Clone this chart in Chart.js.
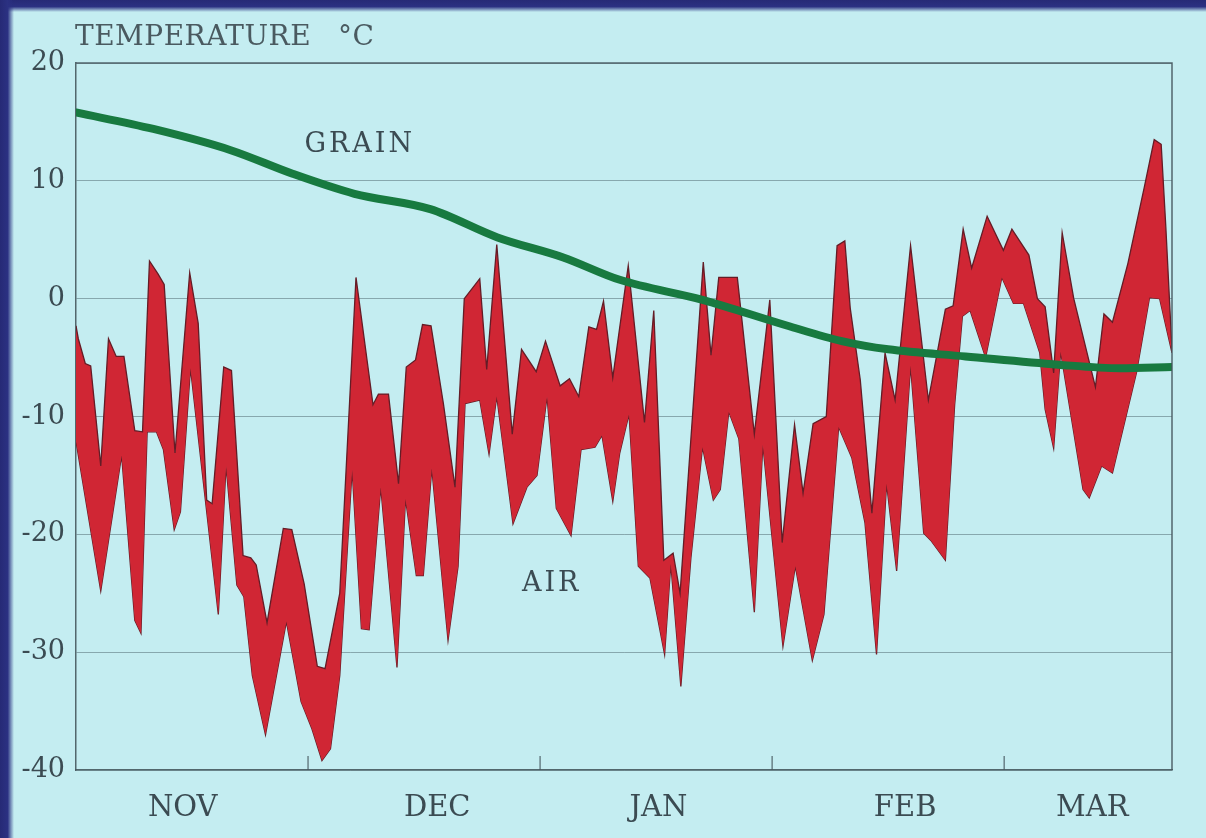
<!DOCTYPE html>
<html><head><meta charset="utf-8">
<script src="https://cdn.jsdelivr.net/npm/chart.js@4.4.1/dist/chart.umd.min.js"></script>
<style>
html,body{margin:0;padding:0;background:#c4ecf0;overflow:hidden}
#wrap{position:relative;width:1206px;height:838px;background:#c4edf1}
#topband{position:absolute;left:0;top:0;width:1206px;height:12px;background:linear-gradient(to bottom,#262a76 0,#2b3182 55%,rgba(60,80,150,0) 100%)}
#leftband{position:absolute;left:0;top:0;width:14px;height:838px;background:linear-gradient(to right,#262a76 0,#2b3182 55%,rgba(60,80,150,0) 100%)}
canvas{position:absolute;left:0;top:0}
</style></head><body>
<div id="wrap"><canvas id="c" width="1206" height="838"></canvas><div id="topband"></div><div id="leftband"></div></div>
<script>
// x values: days from the start of November (each month shown as ~30 days on the axis)
const monthLabels = ['NOV', 'DEC', 'JAN', 'FEB', 'MAR'];
const monthLabelDays = [13.8, 46.7, 75.3, 107.2, 131.4];
const monthTickDays = [30, 60, 90, 120];
const yTicks = [-40, -30, -20, -10, 0, 10, 20];

// AIR: upper envelope (daily maximum)
const airMaxDays = [0,0.3,1.2,1.9,3.2,4.2,5.2,6.2,7.6,8.6,9.5,10.6,11.4,12.8,14.7,15.8,16.9,17.6,19.1,20.1,21.6,22.6,23.3,24.7,26.8,27.9,29.5,31.2,32.2,34.1,36.2,38.4,39.1,40.4,41.7,42.7,43.9,44.8,45.9,47.5,49.0,50.2,52.2,53.1,54.4,56.4,57.6,59.5,60.7,62.6,63.8,65.0,66.3,67.3,68.2,69.4,71.4,73.5,74.7,76.0,77.2,78.1,81.1,82.1,83.1,85.5,87.7,89.7,91.3,92.9,94.0,95.3,97.0,98.4,99.4,100.1,101.4,102.9,104.6,105.9,107.9,110.2,112.4,113.4,114.7,115.8,117.8,119.9,121.0,123.2,124.3,125.3,126.4,127.5,129.0,131.8,132.9,134.0,136.0,138.1,139.4,140.3,140.9,141.7];
const airMaxVals = [-2.3,-3.4,-5.5,-5.7,-14.2,-3.4,-4.9,-4.9,-11.2,-11.3,3.2,2.1,1.2,-13.1,2.2,-2.1,-17.1,-17.4,-5.8,-6.1,-21.8,-22.0,-22.6,-27.5,-19.5,-19.6,-24.2,-31.2,-31.4,-25.0,1.8,-9.0,-8.1,-8.1,-15.7,-5.8,-5.2,-2.2,-2.3,-8.9,-16.0,0.0,1.7,-6.0,4.6,-11.5,-4.3,-6.2,-3.6,-7.4,-6.8,-8.3,-2.4,-2.6,-0.2,-6.7,2.8,-10.5,-1.0,-22.2,-21.6,-25.0,3.1,-4.8,1.8,1.8,-11.5,-0.1,-20.7,-10.7,-16.5,-10.6,-10.0,4.5,4.9,-0.8,-6.9,-18.2,-4.6,-8.6,4.5,-8.6,-0.9,-0.6,5.9,2.6,7.0,4.1,5.9,3.7,0.0,-0.7,-6.3,5.6,0.0,-7.5,-1.3,-2.0,3.0,9.4,13.5,13.1,6.1,-4.4];

// AIR: lower envelope (daily minimum)
const airMinDays = [0,3.2,5.9,7.6,8.4,9.2,10.4,11.3,12.7,13.5,14.8,18.4,19.4,20.8,21.7,22.8,24.5,27.2,29.1,30.5,31.8,32.9,34.1,35.7,36.9,37.9,39.4,41.5,42.6,44.0,44.9,46.0,48.1,49.4,50.3,52.2,53.4,54.4,56.5,58.3,59.6,60.9,62.1,64.0,65.3,67.1,68.0,69.4,70.3,71.5,72.7,74.2,76.1,76.9,78.2,79.5,81.0,82.4,83.3,84.4,85.7,87.7,88.8,91.4,93.0,95.2,96.7,98.6,100.3,102.0,103.5,104.8,106.1,107.9,109.6,110.5,112.4,113.6,114.6,115.6,117.6,119.7,121.2,122.5,124.6,125.3,126.4,127.3,130.2,131.0,132.6,134.0,137.1,138.8,140.1,141.7];
const airMinVals = [-12.1,-24.8,-13.3,-27.3,-28.4,-11.3,-11.3,-12.8,-19.6,-18.1,-5.9,-26.8,-14.2,-24.3,-25.3,-32.0,-37.0,-27.4,-34.2,-36.5,-39.2,-38.2,-32.0,-14.5,-28.0,-28.1,-16.0,-31.3,-17.0,-23.5,-23.5,-14.4,-29.0,-22.7,-8.9,-8.6,-13.2,-8.3,-19.1,-16.0,-15.0,-8.3,-17.8,-20.1,-12.8,-12.6,-11.6,-17.2,-13.1,-9.8,-22.7,-23.7,-30.2,-22.5,-32.9,-22.0,-12.6,-17.1,-16.2,-9.6,-11.9,-26.6,-12.4,-29.5,-22.7,-30.7,-26.8,-10.9,-13.5,-19.0,-30.2,-15.7,-23.1,-5.7,-19.9,-20.5,-22.2,-9.0,-1.5,-1.0,-5.0,1.8,-0.4,-0.4,-4.6,-9.4,-12.7,-4.5,-16.2,-16.9,-14.2,-14.8,-6.3,0.1,0.0,-4.6];

// GRAIN temperature
const grainDays = [0,10,20,28,36,45.8,54.5,63,70.3,81,92,99,105,115,127,135,141.7];
const grainVals = [15.8,14.4,12.6,10.6,8.9,7.6,5.2,3.5,1.6,-0.1,-2.3,-3.6,-4.3,-4.9,-5.6,-5.9,-5.8];

const labelText = [
  {text:'GRAIN', day:36.5, val:13.0},
  {text:'AIR', day:61.3, val:-24.2}
];

const pts = (xs, ys) => xs.map((x, i) => ({x, y: ys[i]}));
const FONT = '"DejaVu Serif", "Liberation Serif", serif';
const INK = '#3b4b52';

const decor = {
  id: 'decor',
  afterDraw(chart) {
    const {ctx, chartArea: a, scales: {x, y}} = chart;
    ctx.save();
    // box top & right
    ctx.strokeStyle = 'rgba(70,88,94,0.9)';
    ctx.lineWidth = 1.5;
    ctx.beginPath();
    ctx.moveTo(a.left, a.top); ctx.lineTo(a.right, a.top); ctx.lineTo(a.right, a.bottom);
    ctx.stroke();
    // month boundary ticks
    ctx.lineWidth = 1.2;
    monthTickDays.forEach(d => {
      const px = x.getPixelForValue(d);
      ctx.beginPath(); ctx.moveTo(px, a.bottom); ctx.lineTo(px, a.bottom - 14); ctx.stroke();
    });
    // axis title
    ctx.fillStyle = '#4a5a60';
    ctx.font = '28px ' + FONT;
    ctx.letterSpacing = '0.5px';
    ctx.textBaseline = 'middle';
    ctx.textAlign = 'left';
    ctx.fillText('TEMPERATURE', a.left - 1, a.top - 25);
    ctx.fillText('\u00B0C', a.left + 262, a.top - 25);
    // series labels
    ctx.fillStyle = INK;
    ctx.font = '27px ' + FONT;
    ctx.letterSpacing = '3px';
    ctx.textAlign = 'center';
    labelText.forEach(l => {
      ctx.fillText(l.text, x.getPixelForValue(l.day) + 1.5, y.getPixelForValue(l.val));
    });
    ctx.letterSpacing = '0px';
    ctx.restore();
  }
};

new Chart(document.getElementById('c'), {
  type: 'line',
  data: {
    datasets: [
      {label: 'GRAIN', data: pts(grainDays, grainVals), borderColor: 'rgb(24,122,64)', borderWidth: 8,
       pointRadius: 0, tension: 0.4, cubicInterpolationMode: 'monotone', fill: false, borderCapStyle: 'round'},
      {label: 'AIR max', data: pts(airMaxDays, airMaxVals), borderColor: 'rgb(100,28,38)', borderWidth: 1.3,
       backgroundColor: 'rgb(208,38,52)', pointRadius: 0, tension: 0, fill: '+1'},
      {label: 'AIR min', data: pts(airMinDays, airMinVals), borderColor: 'rgb(100,28,38)', borderWidth: 1.3,
       pointRadius: 0, tension: 0, fill: false}
    ]
  },
  options: {
    responsive: false,
    animation: false,
    devicePixelRatio: 1,
    layout: {padding: {left: 0, right: 34, top: 63, bottom: 0}},
    plugins: {legend: {display: false}, tooltip: {enabled: false}},
    scales: {
      x: {
        type: 'linear', min: 0, max: 141.7,
        afterBuildTicks: s => { s.ticks = monthLabelDays.map(v => ({value: v})); },
        afterFit: s => { s.height = 68; },
        grid: {display: false, drawTicks: false},
        border: {display: true, color: 'rgba(70,88,94,0.9)', width: 1.5},
        ticks: {autoSkip: false, maxRotation: 0, padding: 21, color: INK,
                font: {family: FONT, size: 29},
                callback: (v, i) => monthLabels[i]}
      },
      y: {
        min: -40, max: 20,
        afterBuildTicks: s => { s.ticks = yTicks.map(v => ({value: v})); },
        afterFit: s => { s.width = 76; },
        grid: {color: 'rgba(85,112,118,0.55)', lineWidth: 1, drawTicks: false},
        border: {display: true, color: 'rgba(70,88,94,0.9)', width: 1.5},
        ticks: {padding: 11, color: INK, font: {family: FONT, size: 27}}
      }
    }
  },
  plugins: [decor]
});
</script></body></html>
